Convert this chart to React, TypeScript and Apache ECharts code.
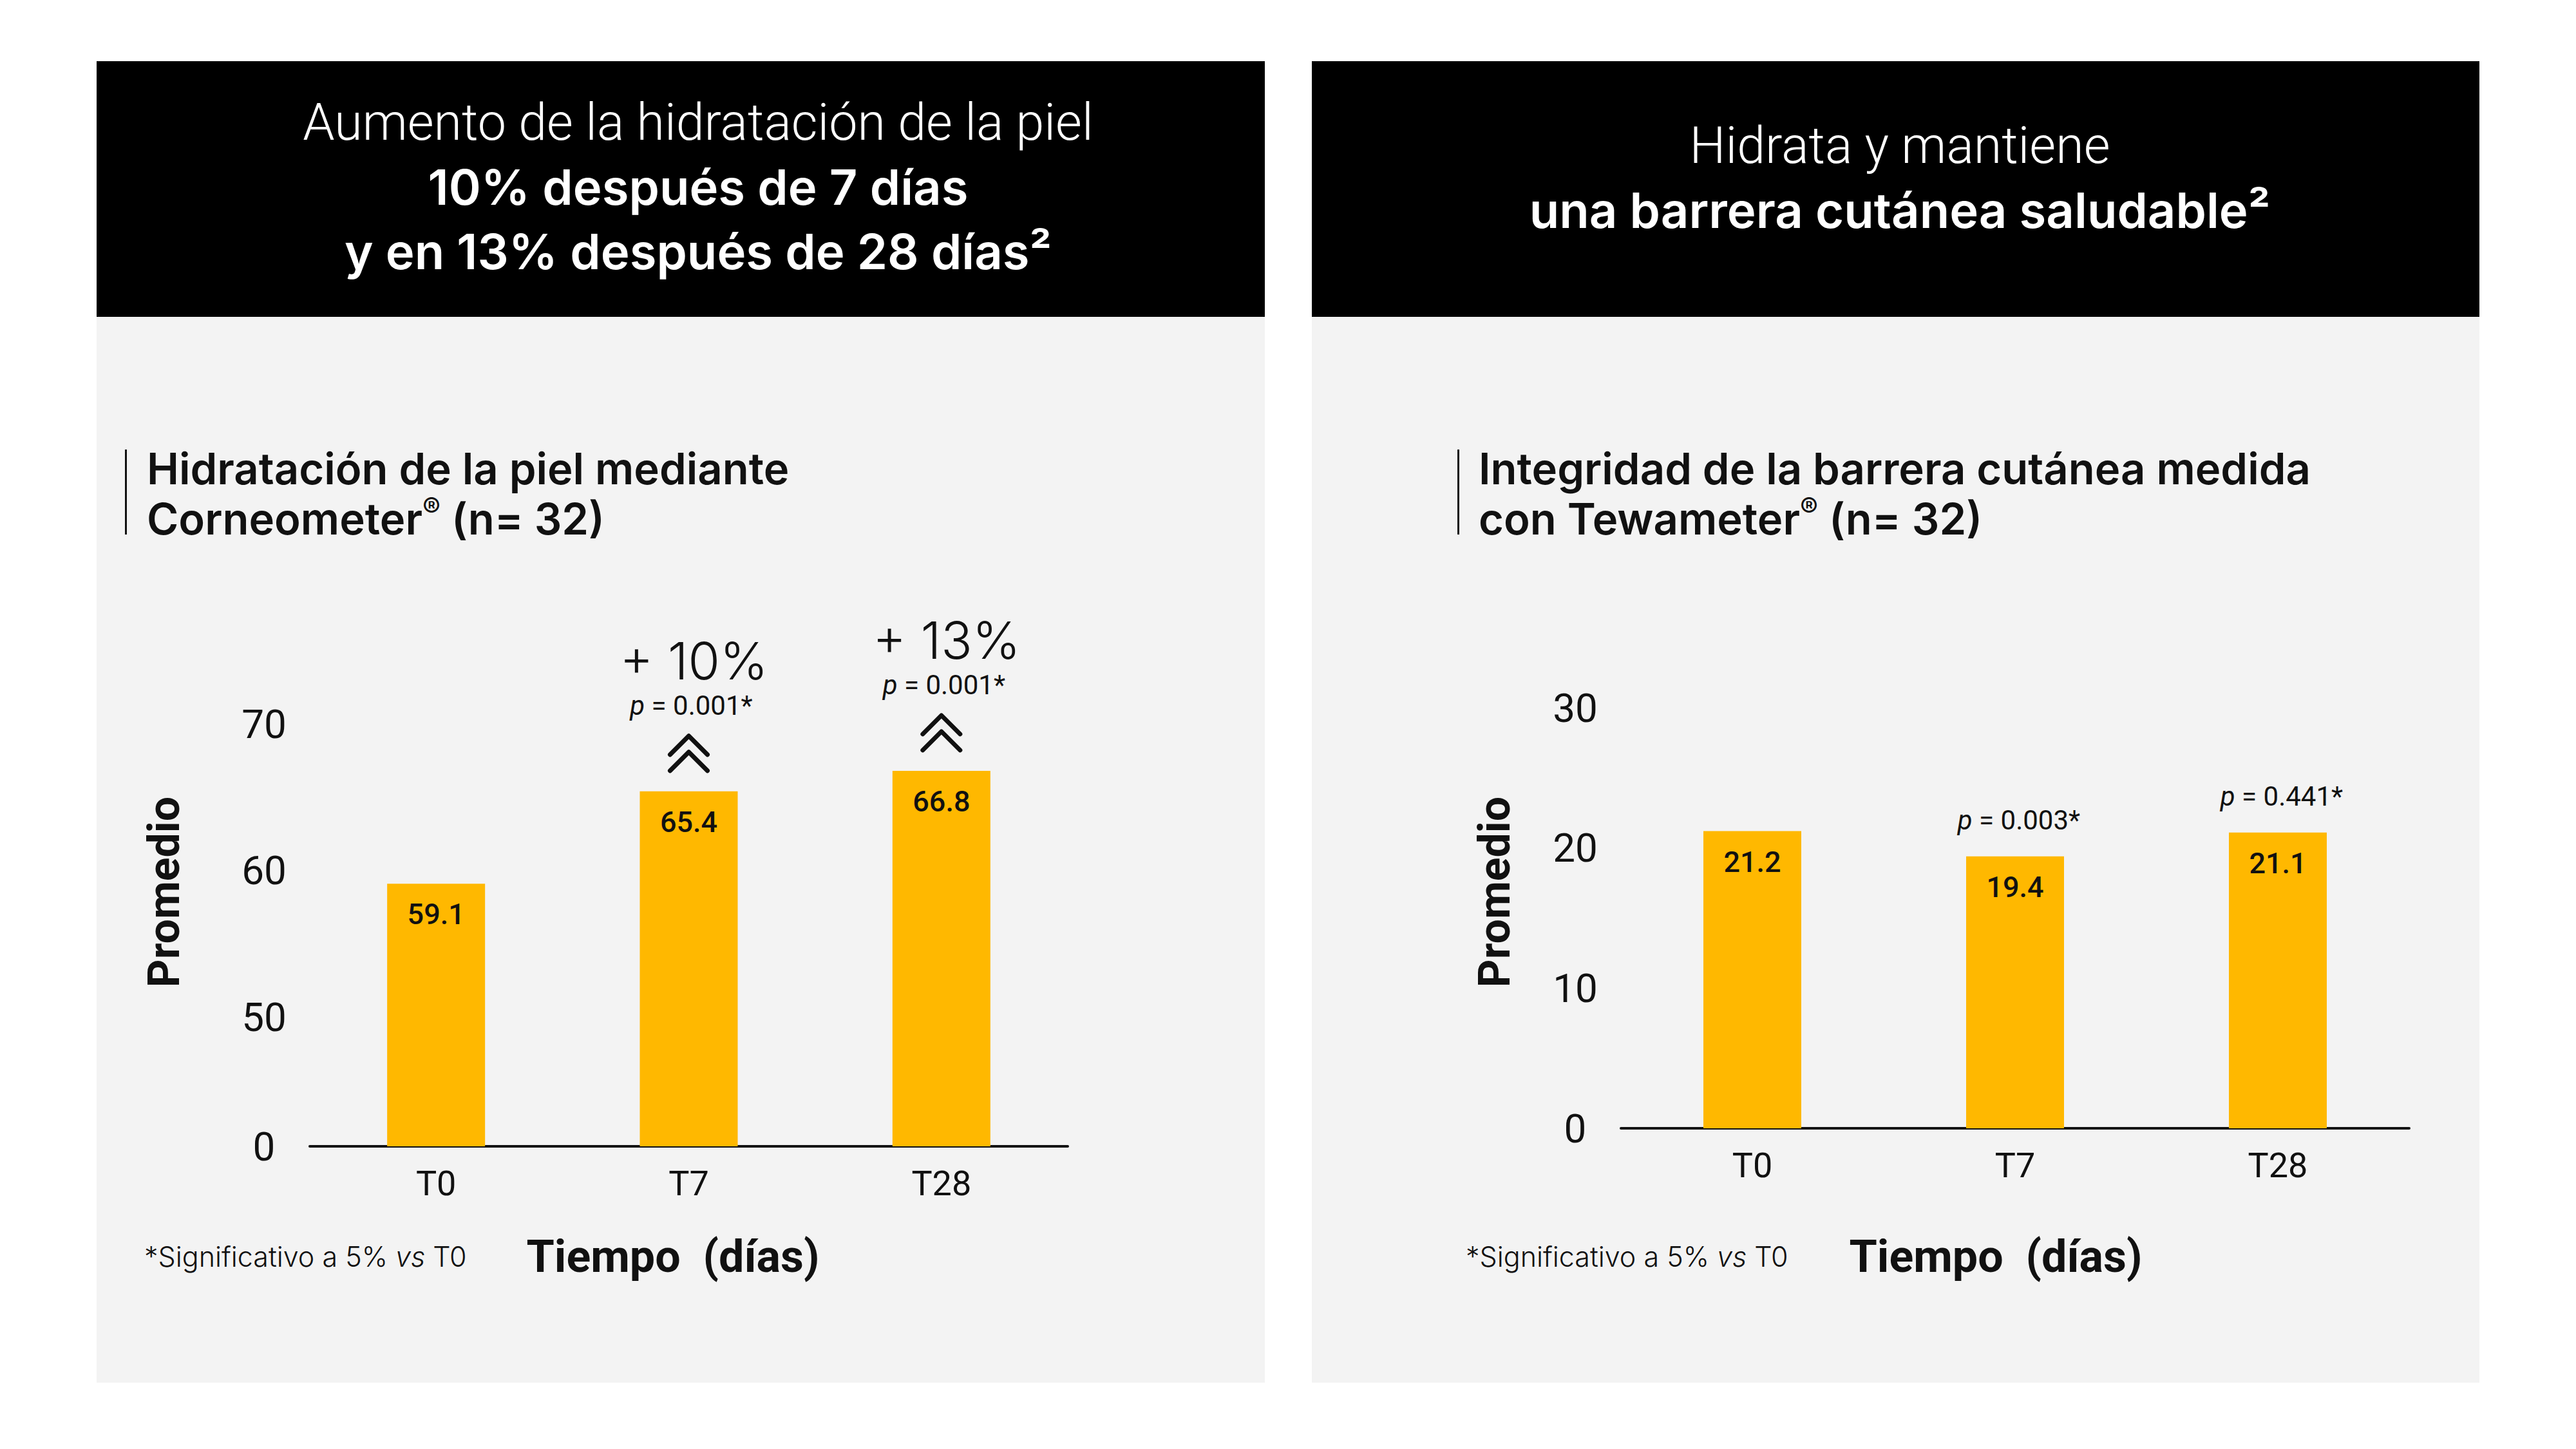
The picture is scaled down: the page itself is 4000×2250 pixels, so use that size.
import React, { useEffect, useRef } from "react";
import * as echarts from "echarts";

// Time points shared by both panels
const timePoints = ["T0", "T7", "T28"];

// Corneometer hydration means
const hydrationMeans = [59.1, 65.4, 66.8];
const hydrationGain = ["", "+ 10%", "+ 13%"];
const hydrationP = ["", "0.001*", "0.001*"];
const hydrationTicks = [0, 50, 60, 70];

// Tewameter barrier means
const barrierMeans = [21.2, 19.4, 21.1];
const barrierP = ["", "0.003*", "0.441*"];
const barrierTicks = [0, 10, 20, 30];

const FONT = "Roboto, Inter, 'Liberation Sans', sans-serif";
const WIDE = "Inter, Roboto, 'Liberation Sans', sans-serif";
const YELLOW = "#FFB800";
const INK = "#111111";
const PANEL_BG = "#F3F3F3";

function chevrons(x: number, y: number) {
  const style = { stroke: INK, lineWidth: 7, lineCap: "round", lineJoin: "round", fill: null };
  return [
    { type: "polyline", shape: { points: [[x - 29, y - 57], [x, y - 86], [x + 29, y - 57]] }, style },
    { type: "polyline", shape: { points: [[x - 29, y - 32], [x, y - 61], [x + 29, y - 32]] }, style },
  ];
}

const pRich = {
  i: { fontFamily: FONT, fontSize: 42, fontStyle: "italic", fill: INK },
  n: { fontFamily: FONT, fontSize: 42, fill: INK },
};

function hydrationNotes(params: any, api: any) {
  const i = params.dataIndex;
  if (!hydrationGain[i]) return { type: "group", children: [] };
  const [x, y] = api.coord([api.value(0), api.value(1)]);
  return {
    type: "group",
    children: [
      {
        type: "text",
        style: {
          x: x + 8, y: y - 203, text: hydrationGain[i], align: "center", verticalAlign: "middle",
          font: `300 80px ${WIDE}`, fill: INK,
        },
      },
      {
        type: "text",
        style: {
          x: x + 4, y: y - 133, text: `{i|p}{n| = ${hydrationP[i]}}`, align: "center", verticalAlign: "middle",
          rich: pRich, fill: INK,
        },
      },
      ...chevrons(x, y),
    ],
  };
}

function barrierNotes(params: any, api: any) {
  const i = params.dataIndex;
  if (!barrierP[i]) return { type: "group", children: [] };
  const [x, y] = api.coord([api.value(0), api.value(1)]);
  return {
    type: "group",
    children: [
      {
        type: "text",
        style: {
          x: x + 6, y: y - 56, text: `{i|p}{n| = ${barrierP[i]}}`, align: "center", verticalAlign: "middle",
          rich: pRich, fill: INK,
        },
      },
    ],
  };
}

function valueAxis(extra: any) {
  return {
    type: "value",
    axisLine: { show: false },
    axisTick: { show: false },
    splitLine: { show: false },
    axisLabel: {
      align: "center",
      margin: 71,
      fontFamily: FONT,
      fontSize: 62,
      color: INK,
      formatter: (v: number) => String(v),
    },
    ...extra,
  };
}

function categoryAxis(gridIndex: number) {
  return {
    type: "category",
    gridIndex,
    data: timePoints,
    axisLine: { lineStyle: { color: INK, width: 4 } },
    axisTick: { show: false },
    axisLabel: { margin: 30, fontFamily: FONT, fontSize: 54, color: INK },
  };
}

function barSeries(axisIndex: number, values: number[]) {
  return {
    type: "bar",
    xAxisIndex: axisIndex,
    yAxisIndex: axisIndex,
    data: values,
    barWidth: 152,
    itemStyle: { color: YELLOW },
    label: {
      show: true,
      position: "insideTop",
      distance: 25,
      fontFamily: FONT,
      fontSize: 45,
      fontWeight: 500,
      color: INK,
      formatter: (p: any) => String(p.value),
    },
  };
}

function panel(x: number, w: number) {
  return [
    { type: "rect", z: -20, shape: { x, y: 95, width: w, height: 397 }, style: { fill: "#000000" } },
    { type: "rect", z: -20, shape: { x, y: 492, width: w, height: 1655 }, style: { fill: PANEL_BG } },
  ];
}

function subtitle(barX: number, textX: number, text: string) {
  return [
    { type: "rect", z: 10, shape: { x: barX, y: 698, width: 3, height: 132 }, style: { fill: INK } },
    {
      type: "text",
      z: 10,
      x: textX,
      y: 688,
      style: {
        text,
        align: "left",
        verticalAlign: "top",
        fill: INK,
        rich: {
          t: { fontFamily: WIDE, fontSize: 67, fontWeight: 600, lineHeight: 78, fill: INK },
          s: { fontFamily: WIDE, fontSize: 42, fontWeight: 500, lineHeight: 78, verticalAlign: "top", fill: INK },
        },
      },
    },
  ];
}

function footer(noteX: number, axisNameX: number) {
  return [
    {
      type: "text",
      z: 10,
      x: noteX,
      y: 1951,
      style: {
        text: "{n|*Significativo a 5% }{i|vs}{n| T0}",
        align: "left",
        verticalAlign: "middle",
        rich: {
          n: { fontFamily: WIDE, fontSize: 43, fontWeight: 300, fill: INK },
          i: { fontFamily: WIDE, fontSize: 43, fontWeight: 300, fontStyle: "italic", fill: INK },
        },
      },
    },
    {
      type: "text",
      z: 10,
      x: axisNameX,
      y: 1951,
      style: {
        text: "Tiempo  (días)",
        align: "center",
        verticalAlign: "middle",
        font: `700 70px ${FONT}`,
        fill: INK,
      },
    },
  ];
}

function yName(x: number) {
  return {
    type: "text",
    z: 10,
    x,
    y: 1385,
    rotation: Math.PI / 2,
    style: { text: "Promedio", align: "center", verticalAlign: "middle", font: `700 68px ${FONT}`, fill: INK },
  };
}

export default function App() {
  const ref = useRef<HTMLDivElement>(null);

  useEffect(() => {
    if (!ref.current) return;
    const chart = echarts.init(ref.current, undefined, { renderer: "svg" });

    const headerRich = {
      l: { fontFamily: FONT, fontSize: 79, fontWeight: 300, lineHeight: 100, fill: "#FFFFFF" },
      b: { fontFamily: WIDE, fontSize: 76, fontWeight: 600, lineHeight: 100, fill: "#FFFFFF" },
    };

    chart.setOption({
      animation: false,
      backgroundColor: "#FFFFFF",
      textStyle: { fontFamily: FONT },
      grid: [
        { left: 481, top: 1124, width: 1177, height: 656, containLabel: false },
        { left: 2517, top: 1099, width: 1224, height: 653, containLabel: false },
      ],
      xAxis: [categoryAxis(0), categoryAxis(1)],
      yAxis: [
        valueAxis({
          gridIndex: 0,
          min: hydrationTicks[0],
          max: hydrationTicks[hydrationTicks.length - 1],
          interval: 10,
          breaks: [{ start: hydrationTicks[0], end: hydrationTicks[1], gap: 8.8 }],
          breakArea: { show: false, expandOnClick: false },
        }),
        valueAxis({
          gridIndex: 1,
          min: barrierTicks[0],
          max: barrierTicks[barrierTicks.length - 1],
          interval: 10,
        }),
      ],
      series: [
        barSeries(0, hydrationMeans),
        barSeries(1, barrierMeans),
        {
          type: "custom",
          xAxisIndex: 0,
          yAxisIndex: 0,
          z: 5,
          silent: true,
          data: hydrationMeans.map((v, i) => [i, v]),
          renderItem: hydrationNotes,
        },
        {
          type: "custom",
          xAxisIndex: 1,
          yAxisIndex: 1,
          z: 5,
          silent: true,
          data: barrierMeans.map((v, i) => [i, v]),
          renderItem: barrierNotes,
        },
      ],
      graphic: [
        ...panel(150, 1814),
        ...panel(2037, 1813),
        {
          type: "text",
          z: 10,
          x: 1084,
          y: 140,
          style: {
            text: "{l|Aumento de la hidratación de la piel}\n{b|10% después de 7 días}\n{b|y en 13% después de 28 días²}",
            align: "center",
            verticalAlign: "top",
            fill: "#FFFFFF",
            rich: headerRich,
          },
        },
        {
          type: "text",
          z: 10,
          x: 2950,
          y: 176,
          style: {
            text: "{l|Hidrata y mantiene}\n{b|una barrera cutánea saludable²}",
            align: "center",
            verticalAlign: "top",
            fill: "#FFFFFF",
            rich: headerRich,
          },
        },
        ...subtitle(194, 228, "{t|Hidratación de la piel mediante}\n{t|Corneometer}{s|®}{t| (n= 32)}"),
        ...subtitle(2263, 2296, "{t|Integridad de la barrera cutánea medida}\n{t|con Tewameter}{s|®}{t| (n= 32)}"),
        ...footer(224, 1045),
        ...footer(2276, 3099),
        yName(255),
        yName(2321),
      ],
    });

    return () => chart.dispose();
  }, []);

  return (
    <div
      ref={ref}
      style={{ position: "absolute", left: 0, top: 0, width: 4000, height: 2250 }}
    />
  );
}
